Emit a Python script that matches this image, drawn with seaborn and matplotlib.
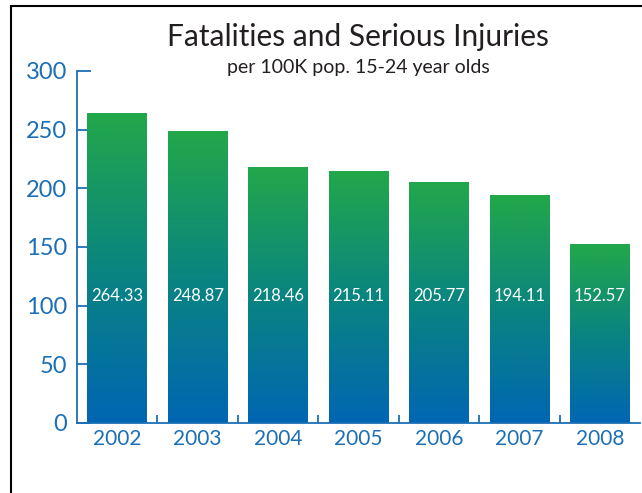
import numpy as np
import pandas as pd
import matplotlib
import matplotlib.pyplot as plt
import seaborn as sns
from matplotlib.colors import LinearSegmentedColormap
from matplotlib.lines import Line2D

matplotlib.use("Agg")

years = ["2002", "2003", "2004", "2005", "2006", "2007", "2008"]
rates = [264.33, 248.87, 218.46, 215.11, 205.77, 194.11, 152.57]
y_ticks = [0, 50, 100, 150, 200, 250, 300]

blue = "#1b6fb6"
cmap = LinearSegmentedColormap.from_list("bg", ["#0066b3", "#0a8580", "#22a84a"])

sns.set_style("white")
plt.rcParams["font.family"] = ["Lato", "DejaVu Sans"]

df = pd.DataFrame({"year": years, "rate": rates})

fig = plt.figure(figsize=(6.42, 4.93), dpi=100)
ax = fig.add_axes([0.12, 0.142, 0.877, 0.714])
sns.barplot(data=df, x="year", y="rate", color="#0a8580", width=0.74, ax=ax)

# gradient fill, clipped to each bar
grad = np.linspace(0, 1, 256).reshape(-1, 1)
for p in ax.patches:
    x0, y0 = p.get_x(), p.get_y()
    w, h = p.get_width(), p.get_height()
    im = ax.imshow(grad, cmap=cmap, origin="lower", aspect="auto",
                   extent=[x0, x0 + w, y0, y0 + h], zorder=1)
    im.set_clip_path(p)
    p.set_facecolor("none")
    p.set_edgecolor("none")

for i, v in enumerate(rates):
    ax.text(i, 108, f"{v:.2f}", ha="center", va="center", color="white", fontsize=12)

ax.set_xlim(-0.5, 6.5)
ax.set_ylim(0, 300)
ax.set_yticks(y_ticks)
ax.set_xticks(np.arange(len(years)))
ax.set_xticklabels(years)
ax.set_xticks(np.arange(len(years) - 1) + 0.5, minor=True)
ax.set_xlabel("")
ax.set_ylabel("")
ax.set_axisbelow(True)

ax.tick_params(axis="y", left=True, direction="in", length=10, width=1.3, color=blue,
               labelcolor=blue, labelsize=17, pad=7)
ax.tick_params(axis="x", which="major", length=0, labelcolor=blue, labelsize=15, pad=4)
ax.tick_params(axis="x", which="minor", bottom=True, direction="in", length=6,
               width=1.3, color=blue)

sns.despine(ax=ax)
for s in ["left", "bottom"]:
    ax.spines[s].set_color(blue)
    ax.spines[s].set_linewidth(1.3)

fig.text(0.558, 0.907, "Fatalities and Serious Injuries", ha="center", va="baseline",
         fontsize=21.5, color="#231f20")
fig.text(0.558, 0.851, "per 100K pop. 15-24 year olds", ha="center", va="baseline",
         fontsize=14, color="#231f20")

# frame lines (left and top)
fig.add_artist(Line2D([11.5 / 642, 11.5 / 642], [0, 1 - 6 / 493], color="black", lw=1.5))
fig.add_artist(Line2D([11.5 / 642, 1], [1 - 6 / 493, 1 - 6 / 493], color="black", lw=1.5))

fig.savefig("out.png", dpi=100)
